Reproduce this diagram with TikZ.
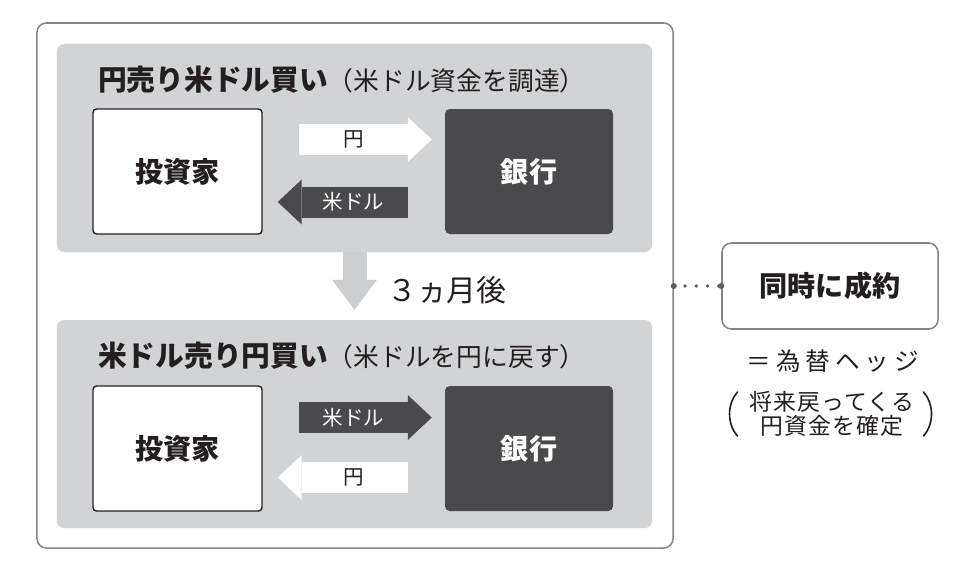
\documentclass[tikz,border=0pt]{standalone}
\usepackage{fontspec}
\setmainfont{Noto Sans CJK JP}
\newfontfamily\hedgefont[LetterSpace=20]{Noto Sans CJK JP}
\newfontfamily\notefont[LetterSpace=5]{Noto Sans CJK JP}
\usetikzlibrary{arrows.meta}
\definecolor{panelgray}{HTML}{D2D3D5}
\definecolor{arrowgray}{HTML}{CDCED0}
\definecolor{darkbox}{HTML}{4A494C}
\definecolor{framegray}{HTML}{858585}
\definecolor{dotgray}{HTML}{5E5E5E}
\definecolor{textdark}{HTML}{231F20}

\begin{document}
\begin{tikzpicture}[x=0.03cm,y=-0.03cm,
    panel/.style={fill=panelgray,rounded corners=6pt,inner sep=0pt,
        minimum width=17.85cm,minimum height=6.24cm},
    investor/.style={draw=textdark,fill=white,line width=1.2pt,rounded corners=3pt,
        minimum width=5.07cm,minimum height=3.75cm,text=textdark,
        font=\fontsize{24}{28}\selectfont\bfseries},
    bank/.style={fill=darkbox,rounded corners=4pt,
        minimum width=5.04cm,minimum height=3.75cm,text=white,
        font=\fontsize{24}{28}\selectfont\bfseries},
    flow/.style={line width=0.93cm,-{Triangle[length=0.72cm,width=1.35cm,line width=0pt]}},
    flowtext/.style={font=\fontsize{17.5}{20}\selectfont,inner sep=0pt},
    heading/.style={anchor=west,inner sep=0pt,text=textdark},
    dotline/.style={draw=dotgray,line width=3.2pt,line cap=round,dash pattern=on 0pt off 9.6pt},
    parenline/.style={draw=textdark,line width=1.4pt,line cap=round}]
    \useasboundingbox (0,0) rectangle (960,586);
    % Frame and panels
    \node[draw=framegray,line width=1.3pt,rounded corners=8pt,
        minimum width=19.08cm,minimum height=15.75cm] (outer) at (355,285.5) {};
    \node[panel] (top) at (354.5,148) {};
    \node[panel] (bottom) at (354.5,424) {};
    \node[heading] (title1) at (98,80)
        {\fontsize{24.5}{28}\selectfont\bfseries 円売り米ドル買い\mdseries\fontsize{22}{26}\selectfont（米ドル資金を調達）};
    \node[heading] (title2) at (98,356)
        {\fontsize{24.5}{28}\selectfont\bfseries 米ドル売り円買い\mdseries\fontsize{22}{26}\selectfont（米ドルを円に戻す）};
    % Investor and bank
    \node[investor] (inv1) at (177.5,171.5) {投資家};
    \node[bank] (bank1) at (529,171.5) {銀行};
    \node[investor] (inv2) at (177.5,448.5) {投資家};
    \node[bank] (bank2) at (529,448.5) {銀行};
    % Flows, top panel
    \draw[flow,color=white,shorten <=1.08cm,shorten >=0.39cm]
        ([yshift=0.96cm]inv1.east) -- node[flowtext,text=textdark] (yen1) {円} ([yshift=0.96cm]bank1.west);
    \draw[flow,color=darkbox,shorten <=1.11cm,shorten >=0.45cm]
        ([yshift=-0.915cm]bank1.west) -- node[flowtext,text=white] (usd1) {米ドル} ([yshift=-0.915cm]inv1.east);
    % Flows, bottom panel
    \draw[flow,color=darkbox,shorten <=1.08cm,shorten >=0.39cm]
        ([yshift=0.93cm]inv2.east) -- node[flowtext,text=white] (usd2) {米ドル} ([yshift=0.93cm]bank2.west);
    \draw[flow,color=white,shorten <=1.11cm,shorten >=0.45cm]
        ([yshift=-0.87cm]bank2.west) -- node[flowtext,text=textdark] (yen2) {円} ([yshift=-0.87cm]inv2.east);
    % Three months later
    \draw[color=arrowgray,line width=0.72cm,shorten >=0.3cm,
        -{Triangle[length=0.9cm,width=1.35cm,line width=0pt]}] (top.south) -- (bottom.north);
    \node[anchor=west,inner sep=0pt,text=textdark,font=\fontsize{25.5}{28}\selectfont] (later) at (387,290) {３ヵ月後};
    % Hedge
    \node[draw=framegray,line width=1.3pt,rounded corners=8pt,fill=white,
        minimum width=6.48cm,minimum height=2.58cm,text=textdark,
        font=\fontsize{24}{28}\selectfont\bfseries] (sync) at (830,286) {同時に成約};
    \draw[dotline] (outer.east |- sync.west) -- (sync.west);
    \fill[dotgray] (outer.east |- sync.west) circle (2.6pt) (sync.west) circle (2.6pt);
    \node[text=textdark,inner sep=0pt,font=\hedgefont\fontsize{21}{24}\selectfont] (hedge) at (833,361) {＝為替ヘッジ};
    \node[text=textdark,inner sep=0pt,align=center,font=\notefont\fontsize{19.5}{20}\selectfont] (note) at (832,414)
        {将来戻ってくる\\[1pt]円資金を確定};
    \draw[parenline] ([xshift=-0.36cm,yshift=0.66cm]note.west)
        .. controls ([xshift=-0.68cm,yshift=0.3cm]note.west) and ([xshift=-0.68cm,yshift=-0.3cm]note.west)
        .. ([xshift=-0.36cm,yshift=-0.66cm]note.west);
    \draw[parenline] ([xshift=0.27cm,yshift=0.66cm]note.east)
        .. controls ([xshift=0.59cm,yshift=0.3cm]note.east) and ([xshift=0.59cm,yshift=-0.3cm]note.east)
        .. ([xshift=0.27cm,yshift=-0.66cm]note.east);
\end{tikzpicture}
\end{document}
